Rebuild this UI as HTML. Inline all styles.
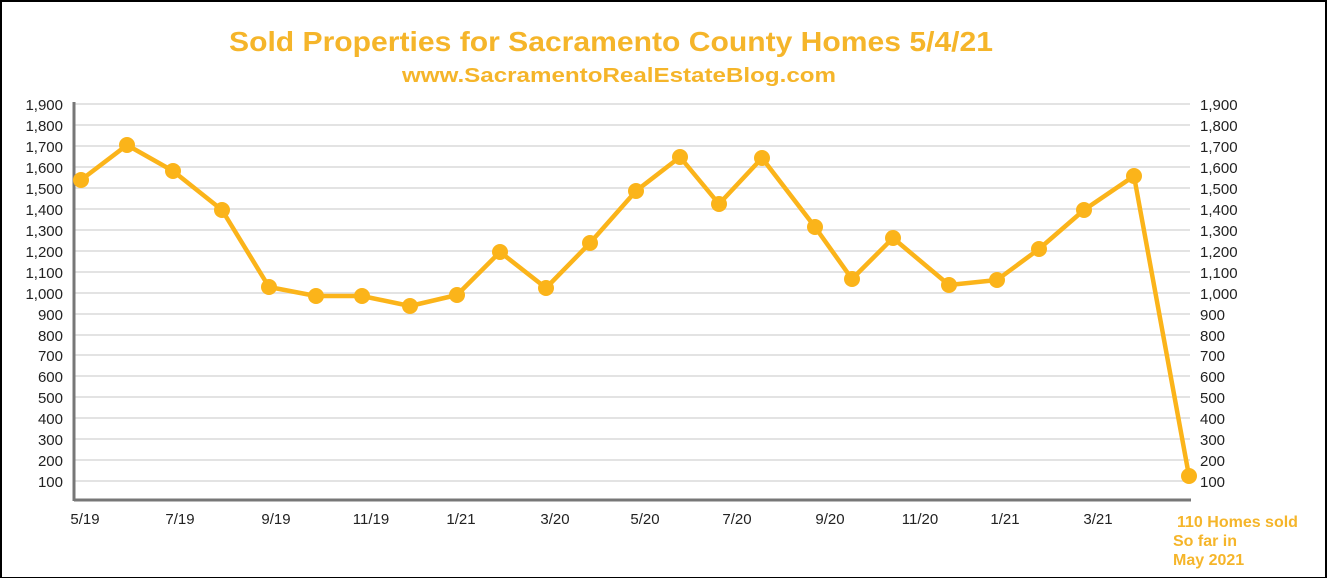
<!DOCTYPE html>
<html><head><style>
body{margin:0;background:#fff}
svg{display:block}
</style></head><body>
<svg width="1327" height="578" viewBox="0 0 1327 578" xmlns="http://www.w3.org/2000/svg" font-family="Liberation Sans, sans-serif">
<rect x="0" y="0" width="1327" height="578" fill="#fff"/>
<rect x="1" y="1" width="1325" height="577" fill="none" stroke="#000" stroke-width="2"/>
<text x="611" y="51" text-anchor="middle" font-size="28" font-weight="bold" fill="#F5B52A" textLength="764" lengthAdjust="spacingAndGlyphs">Sold Properties for Sacramento County Homes 5/4/21</text>
<text x="619" y="82" text-anchor="middle" font-size="20" font-weight="bold" fill="#F5B52A" textLength="434" lengthAdjust="spacingAndGlyphs">www.SacramentoRealEstateBlog.com</text>
<g stroke="#e3e3e3" stroke-width="2">
<line x1="75" x2="1190" y1="104" y2="104"/><line x1="75" x2="1190" y1="125" y2="125"/><line x1="75" x2="1190" y1="146" y2="146"/><line x1="75" x2="1190" y1="167" y2="167"/><line x1="75" x2="1190" y1="188" y2="188"/><line x1="75" x2="1190" y1="209" y2="209"/><line x1="75" x2="1190" y1="230" y2="230"/><line x1="75" x2="1190" y1="251" y2="251"/><line x1="75" x2="1190" y1="272" y2="272"/><line x1="75" x2="1190" y1="293" y2="293"/><line x1="75" x2="1190" y1="314" y2="314"/><line x1="75" x2="1190" y1="335" y2="335"/><line x1="75" x2="1190" y1="355" y2="355"/><line x1="75" x2="1190" y1="376" y2="376"/><line x1="75" x2="1190" y1="397" y2="397"/><line x1="75" x2="1190" y1="418" y2="418"/><line x1="75" x2="1190" y1="439" y2="439"/><line x1="75" x2="1190" y1="460" y2="460"/><line x1="75" x2="1190" y1="481" y2="481"/>
</g>
<line x1="74" y1="102" x2="74" y2="501" stroke="#777" stroke-width="3"/>
<line x1="74" y1="500" x2="1191" y2="500" stroke="#777" stroke-width="3"/>
<g font-size="15" fill="#222" text-anchor="end">
<text x="63" y="110">1,900</text><text x="63" y="131">1,800</text><text x="63" y="152">1,700</text><text x="63" y="173">1,600</text><text x="63" y="194">1,500</text><text x="63" y="215">1,400</text><text x="63" y="236">1,300</text><text x="63" y="257">1,200</text><text x="63" y="278">1,100</text><text x="63" y="299">1,000</text><text x="63" y="320">900</text><text x="63" y="341">800</text><text x="63" y="361">700</text><text x="63" y="382">600</text><text x="63" y="403">500</text><text x="63" y="424">400</text><text x="63" y="445">300</text><text x="63" y="466">200</text><text x="63" y="487">100</text>
</g>
<g font-size="15" fill="#222" text-anchor="start">
<text x="1200" y="110">1,900</text><text x="1200" y="131">1,800</text><text x="1200" y="152">1,700</text><text x="1200" y="173">1,600</text><text x="1200" y="194">1,500</text><text x="1200" y="215">1,400</text><text x="1200" y="236">1,300</text><text x="1200" y="257">1,200</text><text x="1200" y="278">1,100</text><text x="1200" y="299">1,000</text><text x="1200" y="320">900</text><text x="1200" y="341">800</text><text x="1200" y="361">700</text><text x="1200" y="382">600</text><text x="1200" y="403">500</text><text x="1200" y="424">400</text><text x="1200" y="445">300</text><text x="1200" y="466">200</text><text x="1200" y="487">100</text>
</g>
<g font-size="15" fill="#222" text-anchor="middle">
<text x="85" y="524">5/19</text><text x="180" y="524">7/19</text><text x="276" y="524">9/19</text><text x="371" y="524">11/19</text><text x="461" y="524">1/21</text><text x="555" y="524">3/20</text><text x="645" y="524">5/20</text><text x="737" y="524">7/20</text><text x="830" y="524">9/20</text><text x="920" y="524">11/20</text><text x="1005" y="524">1/21</text><text x="1098" y="524">3/21</text>
</g>
<g font-size="16" font-weight="bold" fill="#F5B52A">
<text x="1177" y="527">110 Homes sold</text><text x="1173" y="546">So  far in</text><text x="1173" y="565">May 2021</text>
</g>
<polyline fill="none" stroke="#FBB41A" stroke-width="4.5" stroke-linejoin="round" points="81,180 127,145 173,171 222,210 269,287 316,296 362,296 410,306 457,295 500,252 546,288 590,243 636,191 680,157 719,204 762,158 815,227 852,279 893,238 949,285 997,280 1039,249 1084,210 1134,176 1189,476"/>
<g fill="#FBB41A">
<circle cx="81" cy="180" r="8"/><circle cx="127" cy="145" r="8"/><circle cx="173" cy="171" r="8"/><circle cx="222" cy="210" r="8"/><circle cx="269" cy="287" r="8"/><circle cx="316" cy="296" r="8"/><circle cx="362" cy="296" r="8"/><circle cx="410" cy="306" r="8"/><circle cx="457" cy="295" r="8"/><circle cx="500" cy="252" r="8"/><circle cx="546" cy="288" r="8"/><circle cx="590" cy="243" r="8"/><circle cx="636" cy="191" r="8"/><circle cx="680" cy="157" r="8"/><circle cx="719" cy="204" r="8"/><circle cx="762" cy="158" r="8"/><circle cx="815" cy="227" r="8"/><circle cx="852" cy="279" r="8"/><circle cx="893" cy="238" r="8"/><circle cx="949" cy="285" r="8"/><circle cx="997" cy="280" r="8"/><circle cx="1039" cy="249" r="8"/><circle cx="1084" cy="210" r="8"/><circle cx="1134" cy="176" r="8"/><circle cx="1189" cy="476" r="8"/>
</g>
</svg>
</body></html>
